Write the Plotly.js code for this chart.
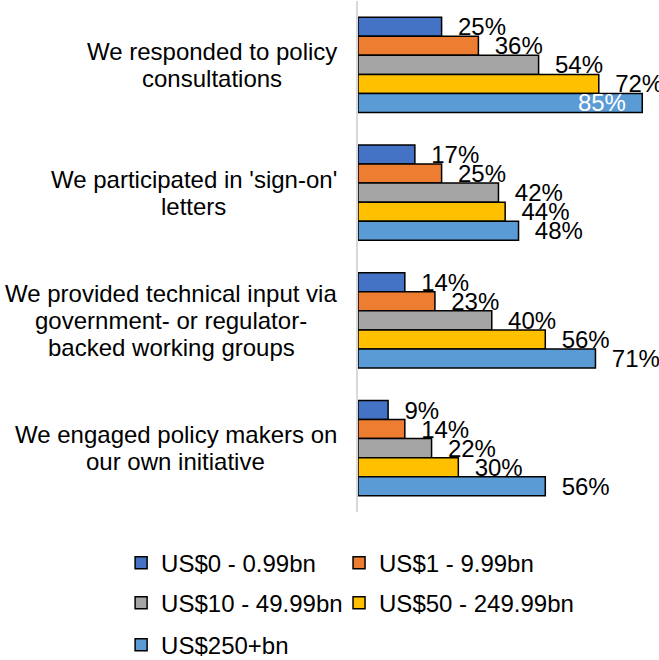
<!DOCTYPE html>
<html>
<head>
<meta charset="utf-8">
<script src="https://cdn.plot.ly/plotly-3.0.1.min.js"></script>
<style>html,body{margin:0;padding:0;background:#fff;}#chart{width:659px;height:660px;}</style>
</head>
<body>
<div id="chart"></div>
<script>
const categories = [
  "We responded to policy<br>consultations",
  "We participated in 'sign-on'<br>letters",
  "We provided technical input via<br>government- or regulator-<br>backed working groups",
  "We engaged policy makers on<br>our own initiative"
];
const seriesNames = ["US$0 - 0.99bn", "US$1 - 9.99bn", "US$10 - 49.99bn", "US$50 - 249.99bn", "US$250+bn"];
const s0 = [25, 17, 14, 9];
const s1 = [36, 25, 23, 14];
const s2 = [54, 42, 40, 22];
const s3 = [72, 44, 56, 30];
const s4 = [85, 48, 71, 56];
const seriesValues = [s0, s1, s2, s3, s4];
const colors = ["#4472C4", "#ED7D31", "#A5A5A5", "#FFC000", "#5B9BD5"];

const FONT = "Liberation Sans, Arial, sans-serif";
const FS = 24;
const NB = "\u00a0\u00a0";

// one legend per entry, laid out in a 2-column grid (paper coordinates)
const legendIds = ["legend", "legend2", "legend3", "legend4", "legend5"];
const legendCols = [-0.787, -0.063];
const legendRowsY = [-0.056, -0.1345, -0.2166];

const traces = seriesValues.map((vals, i) => {
  const isLast = i === seriesValues.length - 1;
  const pos = vals.map((v, j) => (isLast && j === 0) ? "inside" : "outside");
  const tmpl = vals.map((v, j) => (isLast && j === 0) ? "%{x}%" + NB : NB + "%{x}%");
  const tcol = vals.map((v, j) => (isLast && j === 0) ? "#ffffff" : "#000000");
  return {
    type: "bar",
    orientation: "h",
    name: seriesNames[i],
    legend: legendIds[i],
    y: categories,
    x: vals,
    marker: {color: colors[i], line: {color: "#000000", width: 1.5}},
    textposition: pos,
    texttemplate: tmpl,
    insidetextanchor: "end",
    textfont: {family: FONT, size: FS, color: tcol},
    constraintext: "none",
    cliponaxis: false,
    hoverinfo: "skip"
  };
});

// Category labels: centred multi-line blocks, right edge next to the axis
const canvas = document.createElement("canvas");
const ctx = canvas.getContext("2d");
ctx.font = FS + "px 'Liberation Sans', Arial, sans-serif";
const LABEL_GAP = 21;
const LINE_STEP = 27;
const annotations = [];
categories.forEach(c => {
  const lines = c.split("<br>");
  const maxW = Math.max(...lines.map(l => ctx.measureText(l).width));
  const n = lines.length;
  lines.forEach((l, k) => {
    annotations.push({
      xref: "paper", yref: "y",
      x: 0, y: c,
      xanchor: "center", yanchor: "middle",
      xshift: -LABEL_GAP - maxW / 2,
      yshift: ((n - 1) / 2 - k) * LINE_STEP,
      showarrow: false,
      text: l,
      font: {family: FONT, size: FS, color: "#000000"}
    });
  });
});

const layout = {
  width: 659, height: 660,
  margin: {l: 358, r: 0, t: 1, b: 148, pad: 0, autoexpand: false},
  paper_bgcolor: "#ffffff",
  plot_bgcolor: "#ffffff",
  font: {family: FONT, size: FS, color: "#000000"},
  barmode: "group",
  bargap: 0.256,
  bargroupgap: 0,
  xaxis: {range: [0, 90], showgrid: false, zeroline: false, showticklabels: false, ticks: "", showline: false},
  yaxis: {autorange: "reversed", showticklabels: false, ticks: "", showgrid: false, zeroline: false,
          showline: true, linecolor: "#D9D9D9", linewidth: 2},
  showlegend: true,
  annotations: annotations
};
legendIds.forEach((id, i) => {
  layout[id] = {
    orientation: "h",
    x: legendCols[i % 2], xanchor: "left", xref: "paper",
    y: legendRowsY[Math.floor(i / 2)], yanchor: "top", yref: "paper",
    font: {family: FONT, size: FS, color: "#000000"},
    bgcolor: "rgba(0,0,0,0)"
  };
});

Plotly.newPlot("chart", traces, layout, {displayModeBar: false, staticPlot: true});
</script>
</body>
</html>
